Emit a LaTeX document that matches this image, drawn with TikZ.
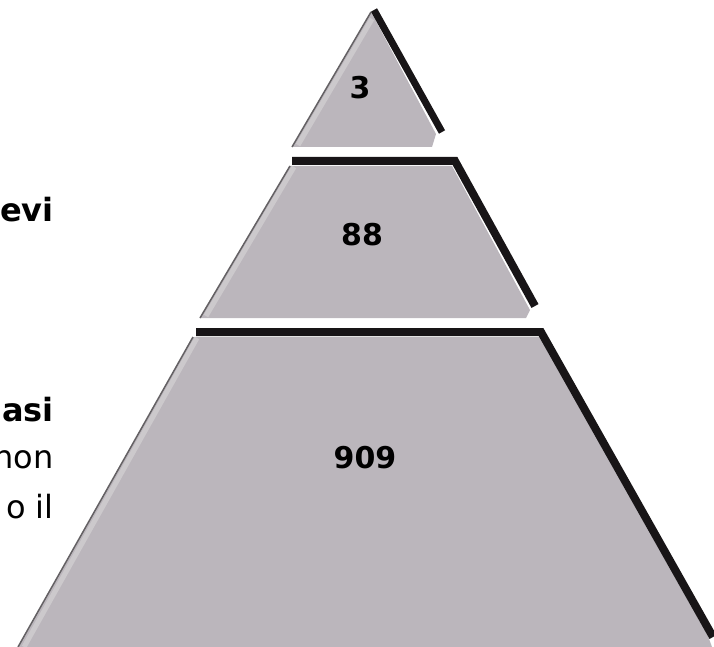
\documentclass[tikz,border=0pt]{standalone}
\usepackage{fontspec}
\setmainfont{DejaVu Sans}

\definecolor{stone}{RGB}{187,182,188}
\definecolor{glint}{RGB}{204,201,204}
\definecolor{shade}{RGB}{24,21,23}
\definecolor{rim}{RGB}{100,97,100}

\begin{document}
\begin{tikzpicture}[x=1pt, y=-1pt,
  ledge/.style={draw=shade, line width=8pt, line join=miter},
  count/.style={font=\fontsize{30}{36}\selectfont\bfseries, inner sep=0pt},
  side/.style={anchor=east, font=\fontsize{32}{38}\selectfont, inner sep=0pt}]

  \useasboundingbox (0,0) rectangle (714,647);
  \clip (0,0) rectangle (714,647);

  % Tip of the pyramid
  \fill[stone] (292,147) -- (371,12) -- (436,134) -- (432,147) -- cycle;
  \draw[glint, line width=5pt] (298,145) -- (372,19);
  \draw[rim, line width=1.5pt] (292,147) -- (371,12);
  \draw[ledge, line width=7pt] (374,10) -- (442,132);

  % Middle band
  \fill[stone] (290,166) -- (452,166) -- (530,310) -- (526,318) -- (200,318) -- cycle;
  \draw[glint, line width=5pt] (206,316) -- (294,167);
  \draw[rim, line width=1.5pt] (200,318) -- (290,166);
  \draw[ledge] (292,161) -- (455,161) -- (535,306);

  % Bottom band
  \fill[stone] (193,337) -- (540,337) -- (708,636) -- (712,647) -- (18,647) -- cycle;
  \draw[glint, line width=5pt] (24,647) -- (197,338);
  \draw[rim, line width=1.5pt] (18,647) -- (193,337);
  \draw[ledge] (196,332) -- (541,332) -- (713,637);

  % Numbers
  \node[count] (tip) at (360,88) {3};
  \node[count] (mid) at (362,235) {88};
  \node[count] (low) at (365,458) {909};

  % Cut-off text on the left
  \node[side, font=\fontsize{32}{38}\selectfont\bfseries] (lineA) at (54,210) {evi};
  \node[side, font=\fontsize{32}{38}\selectfont\bfseries] (lineB) at (54,410) {asi};
  \node[side] (lineC) at (54,460) {non};
  \node[side] (lineD) at (54,507) {o il};

\end{tikzpicture}
\end{document}
